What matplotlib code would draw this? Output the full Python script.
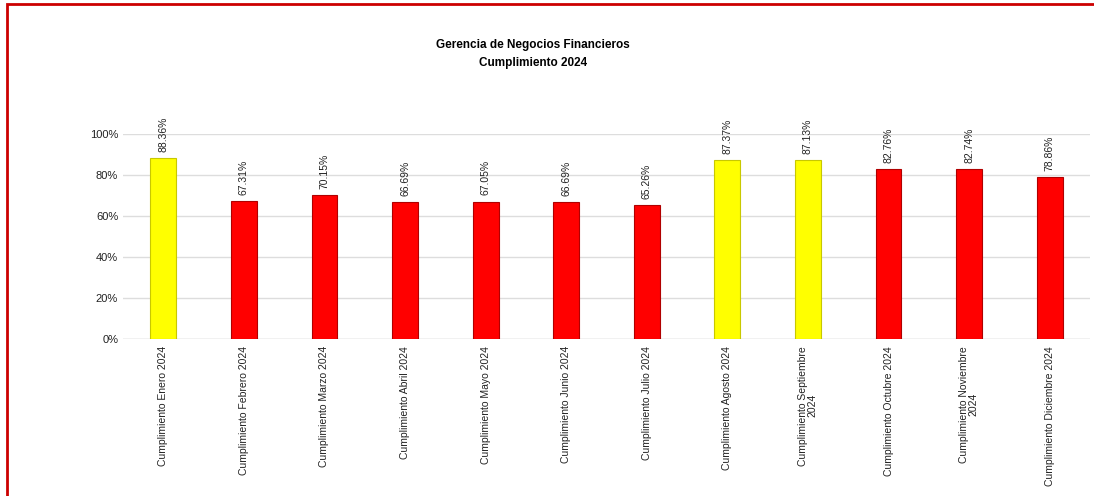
import matplotlib.pyplot as plt
from matplotlib.patches import Rectangle
from matplotlib.ticker import PercentFormatter

# Chart data
categories = ["Cumplimiento Enero 2024", "Cumplimiento Febrero 2024", "Cumplimiento Marzo 2024",
              "Cumplimiento Abril 2024", "Cumplimiento Mayo 2024", "Cumplimiento Junio 2024",
              "Cumplimiento Julio 2024", "Cumplimiento Agosto 2024", "Cumplimiento Septiembre\n2024",
              "Cumplimiento Octubre 2024", "Cumplimiento Noviembre\n2024", "Cumplimiento Diciembre 2024"]
values = [88.36, 67.31, 70.15, 66.69, 67.05, 66.69, 65.26, 87.37, 87.13, 82.76, 82.74, 78.86]
bar_colors = ["#FFFF00", "#FF0000", "#FF0000", "#FF0000", "#FF0000", "#FF0000",
              "#FF0000", "#FFFF00", "#FFFF00", "#FF0000", "#FF0000", "#FF0000"]
edge_colors = ["#C8C800" if c == "#FFFF00" else "#B00000" for c in bar_colors]

plt.rcParams['font.family'] = ['Liberation Sans', 'DejaVu Sans']

fig = plt.figure(figsize=(10.94, 4.96), dpi=100)
ax = fig.add_axes([123 / 1094, 0.3165, 967 / 1094, 0.4133])

x = list(range(len(categories)))
bars = ax.bar(x, values, width=0.32, color=bar_colors, edgecolor=edge_colors, linewidth=0.8, zorder=3)

# Value labels above each bar
for xi, v in zip(x, values):
    ax.text(xi, v + 3, f"{v:.2f}%", rotation=90, ha='center', va='bottom', fontsize=7.5, color='#222222')

ax.set_xlim(-0.5, len(categories) - 0.5)
ax.set_ylim(0, 100)
ax.set_yticks([0, 20, 40, 60, 80, 100])
ax.yaxis.set_major_formatter(PercentFormatter(decimals=0))
ax.grid(axis='y', color='#DDDDDD', linewidth=1, zorder=0)
ax.set_xticks(x)
ax.set_xticklabels(categories, rotation=90, fontsize=7.5, ha='center', va='top', linespacing=0.95)
ax.tick_params(axis='y', length=0, labelsize=8, colors='#222222')
ax.tick_params(axis='x', length=0, pad=5, colors='#222222')
for s in ax.spines.values():
    s.set_visible(False)
ax.axhline(0, color='#D9D9D9', linewidth=1, zorder=2)

fig.text(533 / 1094, 1 - 54 / 496, "Gerencia de Negocios Financieros\nCumplimiento 2024", ha='center', va='center',
         fontsize=8.5, fontweight='bold', linespacing=1.6)

# Red frame around the chart
fig.patches.append(Rectangle((7 / 1094, -0.1), 1.2, 1 - 4 / 496 + 0.1, transform=fig.transFigure,
                             fill=False, edgecolor='#CC0000', linewidth=2))

plt.savefig("out.png", dpi=100)
